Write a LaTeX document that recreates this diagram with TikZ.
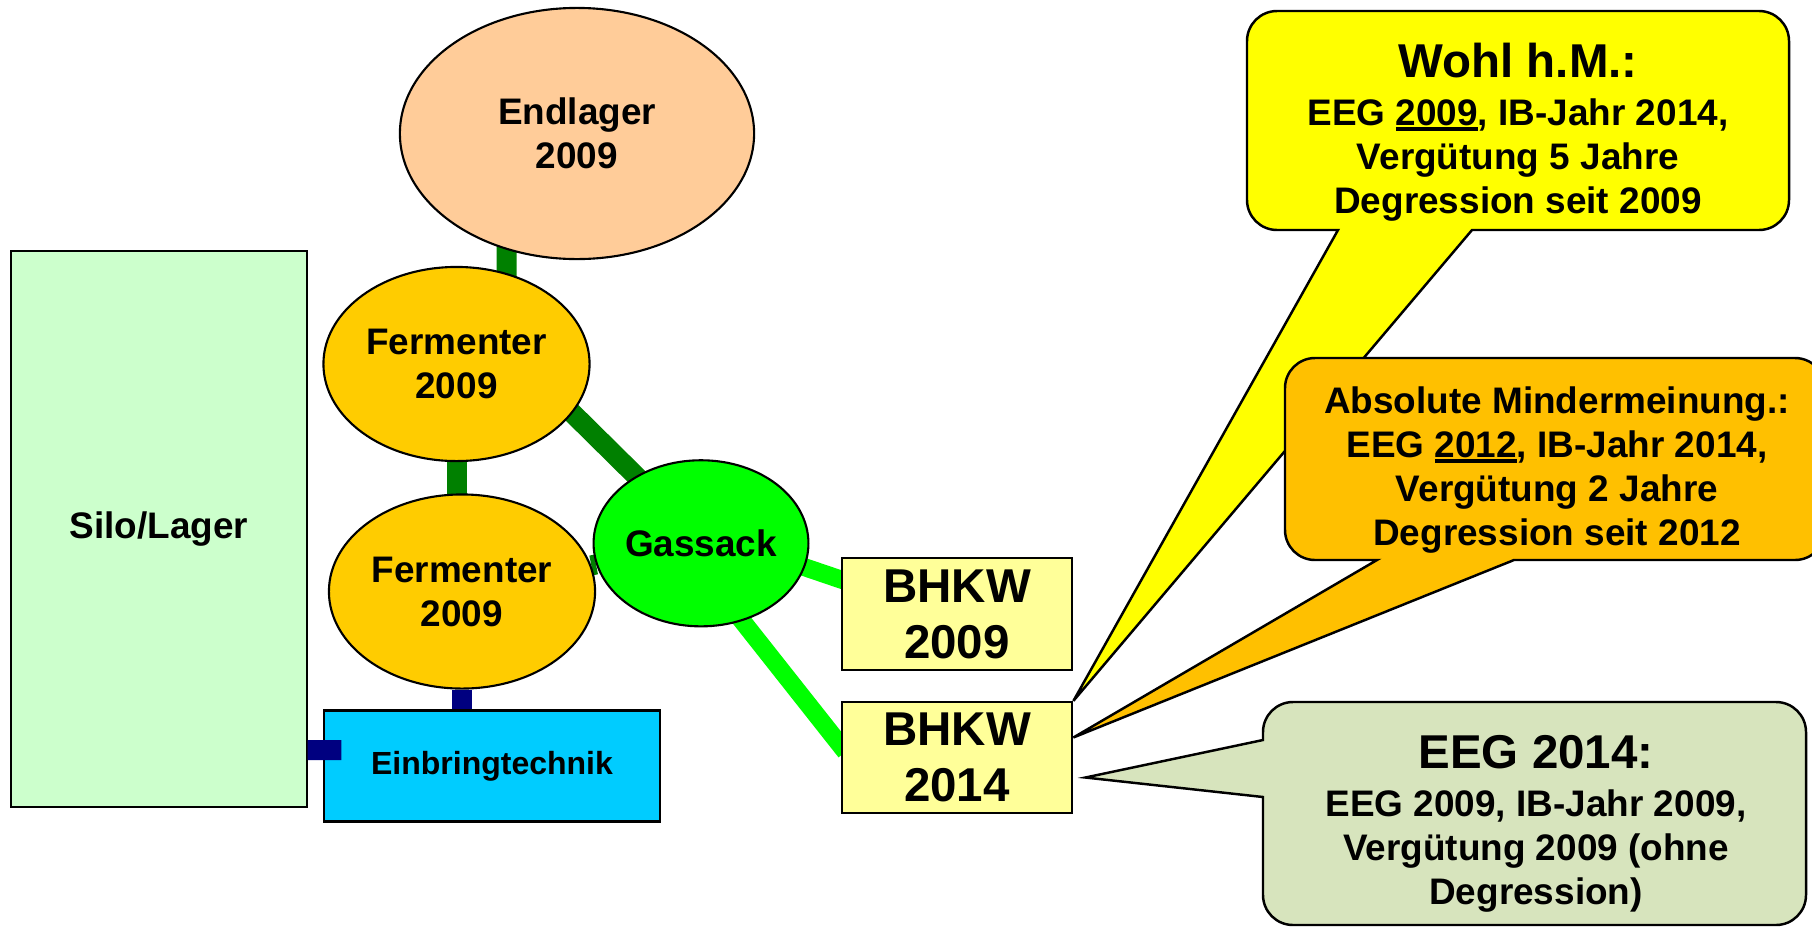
\documentclass[tikz,border=0pt]{standalone}
\usepackage{fontspec}
\setmainfont{Liberation Sans}
\usetikzlibrary{shapes.geometric}
\usetikzlibrary{backgrounds}
\usepackage{xcolor}
\definecolor{endlcol}{HTML}{FFCC99}
\definecolor{fermcol}{HTML}{FFCC00}
\definecolor{gascol}{HTML}{00FF00}
\definecolor{silocol}{HTML}{CCFFCC}
\definecolor{einbcol}{HTML}{00CCFF}
\definecolor{bhkwcol}{HTML}{FFFF99}
\definecolor{hmcol}{HTML}{FFFF00}
\definecolor{mmcol}{HTML}{FFC000}
\definecolor{eegcol}{HTML}{D7E4BD}
\definecolor{pipedark}{HTML}{008000}
\definecolor{pipenavy}{HTML}{000080}
\newcommand{\ujahr}[1]{\setbox0\hbox{#1}\rlap{\rule[-1.5pt]{\wd0}{1.1pt}}\box0}

\begin{document}
\begin{tikzpicture}[x=0.01cm, y=-0.01cm,
 txt/.style={font=\bfseries\fontsize{10.5}{12.5}\selectfont, align=center},
 big/.style={font=\bfseries\fontsize{13.5}{15.9}\selectfont, align=center},
 vessel/.style={ellipse, draw, line width=0.6pt, inner sep=0pt, txt},
 unit/.style={rectangle, draw, line width=0.6pt, inner sep=0pt},
 gaspipe/.style={line width=0.2cm, pipedark},
 feedpipe/.style={line width=0.2cm, pipenavy},
 gasline/.style={line width=0.18cm, gascol, shorten <=-0.08cm, shorten >=-0.08cm},
 bubble/.style={draw, line width=0.7pt}]
\useasboundingbox (0,0) rectangle (1812,927);

\node[vessel, fill=endlcol, minimum width=3.54cm, minimum height=2.51cm] (endl) at (577,133.5) {Endlager\\2009};
\node[vessel, fill=fermcol, minimum width=2.66cm, minimum height=1.94cm] (f1) at (456.5,364) {Fermenter\\2009};
\node[vessel, fill=fermcol, minimum width=2.66cm, minimum height=1.94cm] (f2) at (462,591.5) {Fermenter\\2009};
\node[vessel, fill=gascol, minimum width=2.12cm, minimum height=1.66cm] (gas) at (701,543.3) {Gassack};
\node[unit, txt, fill=silocol, minimum width=2.95cm, minimum height=5.56cm] (silo) at (159,529) {Silo/Lager};
\node[unit, fill=einbcol, minimum width=3.36cm, minimum height=1.11cm, font=\bfseries\fontsize{9.1}{11}\selectfont] (einb) at (492,766) {Einbringtechnik};
\node[unit, big, fill=bhkwcol, minimum width=2.305cm, minimum height=1.12cm] (bhkwA) at (957,614) {BHKW\\2009};
\node[unit, big, fill=bhkwcol, minimum width=2.305cm, minimum height=1.11cm] (bhkwB) at (957,757.5) {BHKW\\2014};

\begin{scope}[on background layer]
\draw[gaspipe] ([xshift=-0.7cm]endl.center) -- ([xshift=0.5cm]f1.center);
\draw[gaspipe] (f1) -- (f1 |- f2);
\draw[gaspipe, shorten <=-0.1cm, shorten >=-0.1cm] (f1.-23) -- (gas.134);
\draw[gaspipe] (f2) -- (gas);
\draw[feedpipe] (f2.south) -- (einb.north -| f2.south);
\draw[gasline] (gas.-13) -- ([yshift=-0.225cm]bhkwA.north west);
\draw[gasline] (gas.-62) -- ([yshift=0.12cm]bhkwB.west);
\end{scope}
\draw[feedpipe] ([yshift=0.58cm]silo.south east) -- ([xshift=0.185cm, yshift=0.725cm]einb.south west);

\draw[bubble, fill=hmcol] (1247,120) [rounded corners=0.3cm] -- (1247,230) [sharp corners] -- (1338,230) -- (bhkwB.north east) -- (1472,230) [rounded corners=0.3cm] -- (1789,230) -- (1789,11) -- (1247,11) -- cycle;
\node[txt] (hm) at (1518,132.5) {{\fontsize{13.5}{15}\selectfont Wohl h.M.:}\\[1.2pt] EEG \ujahr{2009}, IB-Jahr 2014,\\ Vergütung 5 Jahre\\ Degression seit 2009};

\draw[bubble, fill=mmcol] (1285,450) [rounded corners=0.3cm] -- (1285,560) [sharp corners] -- (1377,560) -- ([yshift=0.2cm]bhkwB.east) -- (1514,560) [rounded corners=0.3cm] -- (1825,560) -- (1825,358) -- (1285,358) -- cycle;
\node[txt] (mm) at (1557,470) {Absolute Mindermeinung.:\\ EEG \ujahr{2012}, IB-Jahr 2014,\\ Vergütung 2 Jahre\\ Degression seit 2012};

\draw[bubble, fill=eegcol] (1500,702) [rounded corners=0.3cm] -- (1263,702) [sharp corners] -- (1263,740) -- ([xshift=0.12cm, yshift=-0.2cm]bhkwB.east) -- (1263,797) [rounded corners=0.3cm] -- (1263,925) -- (1806,925) -- (1806,702) -- cycle;
\node[txt] (eeg) at (1536,824) {{\fontsize{13.5}{15}\selectfont EEG 2014:}\\[1.2pt] EEG 2009, IB-Jahr 2009,\\ Vergütung 2009 (ohne\\ Degression)};
\end{tikzpicture}
\end{document}
